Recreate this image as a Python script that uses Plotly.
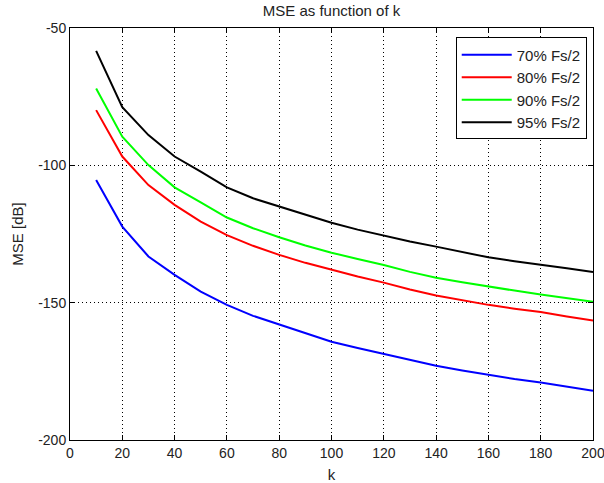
import plotly.graph_objects as go

k = [10, 20, 30, 40, 50, 60, 70, 80, 90, 100, 110, 120, 130, 140, 150, 160, 170, 180, 190, 200]

mse_70 = [-105.3, -122.3, -133.2, -139.9, -146.0, -150.8, -154.8, -157.9, -161.2, -164.2,
          -166.5, -168.7, -171.0, -173.0, -174.7, -176.3, -177.8, -179.1, -180.6, -182.1]
mse_80 = [-79.9, -96.8, -107.2, -114.4, -120.5, -125.4, -129.3, -132.6, -135.5, -138.1,
          -140.5, -142.7, -145.2, -147.4, -149.2, -150.8, -152.2, -153.4, -155.0, -156.5]
mse_90 = [-72.0, -89.6, -99.9, -108.0, -113.5, -119.0, -122.9, -126.2, -129.2, -131.8,
          -134.1, -136.3, -138.8, -140.9, -142.6, -144.2, -145.6, -147.0, -148.3, -149.7]
mse_95 = [-58.3, -78.8, -89.0, -96.8, -102.3, -108.0, -112.0, -115.0, -118.1, -120.9,
          -123.4, -125.6, -127.7, -129.6, -131.5, -133.5, -134.9, -136.3, -137.5, -138.8]

series_names = ["70% Fs/2", "80% Fs/2", "90% Fs/2", "95% Fs/2"]
series_values = [mse_70, mse_80, mse_90, mse_95]
series_colors = ["#0000ff", "#ff0000", "#00ff00", "#000000"]

x_ticks = [0, 20, 40, 60, 80, 100, 120, 140, 160, 180, 200]
y_ticks = [-200, -150, -100, -50]

FONT = "Liberation Sans, Arial, sans-serif"

fig = go.Figure()
for i, (name, vals, col) in enumerate(zip(series_names, series_values, series_colors)):
    fig.add_trace(go.Scatter(x=k, y=vals, mode="lines", name=name,
                             line=dict(color=col, width=2)))

axis_common = dict(
    showline=True, linecolor="black", linewidth=1, mirror="ticks",
    ticks="inside", ticklen=5, tickcolor="black", tickwidth=1,
    showgrid=True, gridcolor="black", gridwidth=1, griddash="1px,3px",
    zeroline=False, automargin=False, ticklabeloverflow="allow",
    tickfont=dict(family=FONT, size=14, color="#222"),
)

fig.update_layout(
    width=604, height=483,
    margin=dict(l=70, r=11, t=28, b=43),
    paper_bgcolor="white", plot_bgcolor="white",
    title=dict(text="MSE as function of k", x=(70 + 593) / 2 / 604, xanchor="center",
               y=1 - 11 / 483, yanchor="middle",
               font=dict(family=FONT, size=15, color="#222")),
    xaxis=dict(range=[0, 200], tickvals=x_ticks, ticktext=[str(v) for v in x_ticks],
               title=dict(text="k", font=dict(family=FONT, size=15, color="#222"), standoff=10),
               **axis_common),
    yaxis=dict(range=[-200, -50], tickvals=y_ticks, ticktext=[str(v) for v in y_ticks],
               title=dict(text="MSE [dB]", font=dict(family=FONT, size=15, color="#222"), standoff=10),
               **axis_common),
    legend=dict(x=0.988, y=0.977, xanchor="right", yanchor="top",
                bgcolor="white", bordercolor="black", borderwidth=1,
                font=dict(family=FONT, size=15, color="#222"),
                itemwidth=50),
    showlegend=True,
)

fig.write_html("out.html")
